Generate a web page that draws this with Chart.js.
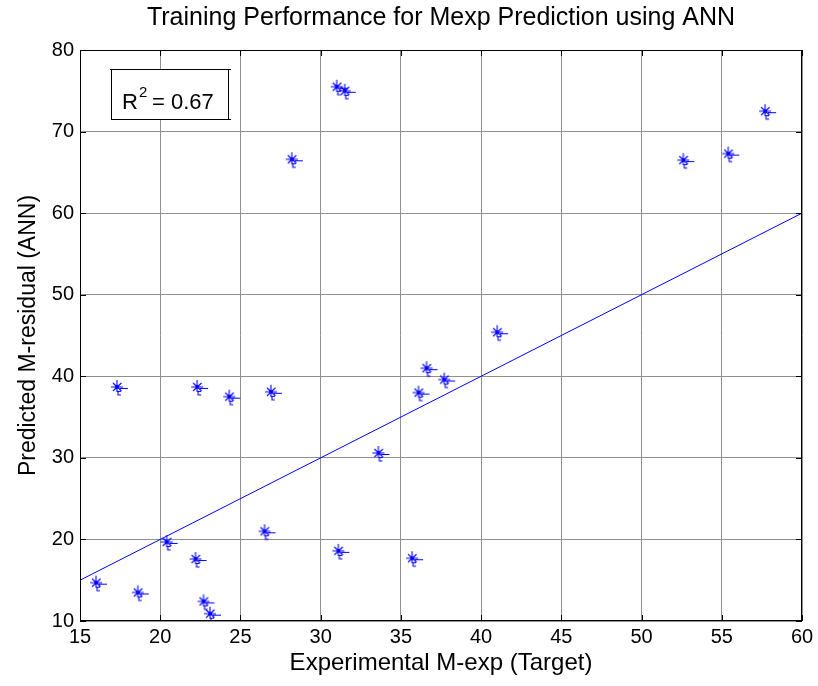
<!DOCTYPE html>
<html>
<head>
<meta charset="utf-8">
<title>Training Performance for Mexp Prediction using ANN</title>
<script src="https://cdn.jsdelivr.net/npm/chart.js@4.4.1/dist/chart.umd.min.js"></script>
<style>
  html, body { margin: 0; padding: 0; background: #fff; }
  #wrap { width: 818px; height: 686px; }
</style>
</head>
<body>
<div id="wrap"><canvas id="fitChart" width="818" height="686"></canvas></div>
<script>
// Target vs ANN output (training set)
const experimental = [31.0, 31.5, 28.2, 17.3, 22.3, 24.3, 26.9, 26.5, 31.1, 20.4,
                      22.2, 16.0, 18.6, 22.7, 23.1, 36.6, 37.7, 36.1, 33.6, 35.7,
                      57.7, 55.4, 52.6, 41.0];
const predicted    = [75.5, 75.0, 66.6, 38.7, 38.7, 37.5, 38.1, 21.0, 18.6, 19.7,
                      17.6, 14.7, 13.5, 12.4, 10.9, 41.0, 39.6, 38.0, 30.6, 17.7,
                      72.5, 67.3, 66.5, 45.4];
// reference line y = x
const fitX = [15, 60];
const fitY = [15, 60];
const xTicks = [15, 20, 25, 30, 35, 40, 45, 50, 55, 60];
const yTicks = [10, 20, 30, 40, 50, 60, 70, 80];
const r2 = 0.67;
const titleText = 'Training Performance for Mexp Prediction using ANN';

const FONT = "'Liberation Sans', Arial, sans-serif";

// MATLAB-style '*' marker, with the little ragged strokes it leaves behind
function starMarker() {
    const c = document.createElement('canvas');
    c.width = 32; c.height = 32;
    const g = c.getContext('2d');
    const cx = 16, cy = 16;
    g.strokeStyle = '#0000ff';
    g.lineWidth = 1.1;
    g.beginPath();
    g.moveTo(cx - 6, cy); g.lineTo(cx + 6, cy);
    g.moveTo(cx, cy - 7); g.lineTo(cx, cy + 5);
    g.moveTo(cx - 4, cy - 4); g.lineTo(cx + 4.5, cy + 4);
    g.moveTo(cx + 4.5, cy - 4); g.lineTo(cx - 4, cy + 4);
    // trailing dash and small bracket
    g.moveTo(cx + 3, cy + 1.5); g.lineTo(cx + 11, cy + 1.5);
    g.moveTo(cx + 4, cy + 4.5); g.lineTo(cx + 1, cy + 4.5); g.lineTo(cx + 1, cy + 8); g.lineTo(cx + 4, cy + 8);
    g.stroke();
    g.fillStyle = '#0000ff';
    g.fillRect(cx - 1.5, cy - 1.5, 3, 3);
    return c;
}

const points = experimental.map((x, i) => ({ x: x, y: predicted[i] }));
const fitLine = fitX.map((x, i) => ({ x: x, y: fitY[i] }));

// title, box, inward ticks and the R^2 annotation
const axesFrame = {
    id: 'axesFrame',
    afterDraw(chart) {
        const { ctx, chartArea: a, scales } = chart;
        ctx.save();
        ctx.fillStyle = '#000';
        ctx.font = '25px ' + FONT;
        ctx.textAlign = 'center';
        ctx.textBaseline = 'middle';
        ctx.fillText(titleText, (a.left + a.right) / 2, 18);

        ctx.strokeStyle = '#000';
        ctx.lineWidth = 1;
        ctx.strokeRect(a.left + 0.5, a.top + 0.5, a.right - a.left - 1, a.bottom - a.top - 1);
        ctx.beginPath();
        xTicks.forEach(v => {
            const px = Math.round(scales.x.getPixelForValue(v)) + 0.5;
            ctx.moveTo(px, a.bottom); ctx.lineTo(px, a.bottom - 6);
            ctx.moveTo(px, a.top); ctx.lineTo(px, a.top + 6);
        });
        yTicks.forEach(v => {
            const py = Math.round(scales.y.getPixelForValue(v)) + 0.5;
            ctx.moveTo(a.left, py); ctx.lineTo(a.left + 6, py);
            ctx.moveTo(a.right, py); ctx.lineTo(a.right - 6, py);
        });
        ctx.stroke();

        // R^2 label box
        const bx = 111, by = 69, bw = 117, bh = 50;
        ctx.fillStyle = '#fff';
        ctx.fillRect(bx, by, bw, bh);
        ctx.strokeRect(bx + 0.5, by + 0.5, bw, bh);
        ctx.beginPath();
        ctx.moveTo(bx - 1, by + 0.5); ctx.lineTo(bx + 4, by + 0.5);
        ctx.moveTo(bx + bw - 3, by + 0.5); ctx.lineTo(bx + bw + 3, by + 0.5);
        ctx.moveTo(bx + bw - 3, by + bh + 0.5); ctx.lineTo(bx + bw + 3, by + bh + 0.5);
        ctx.stroke();
        ctx.fillStyle = '#000';
        ctx.textAlign = 'left';
        ctx.textBaseline = 'alphabetic';
        ctx.font = '22px ' + FONT;
        ctx.fillText('R', 122, 109);
        const rw = ctx.measureText('R').width;
        ctx.font = '15px ' + FONT;
        ctx.fillText('2', 122 + rw + 1, 97);
        ctx.font = '22px ' + FONT;
        ctx.fillText(' = ' + r2.toFixed(2), 122 + rw + 8, 109);
        ctx.restore();
    }
};

new Chart(document.getElementById('fitChart'), {
    type: 'scatter',
    data: {
        datasets: [{
            label: 'ANN output',
            data: points,
            pointStyle: starMarker(),
            pointRadius: 7,
            pointHoverRadius: 7
        }, {
            type: 'line',
            label: 'Y = T',
            data: fitLine,
            borderColor: '#0000ff',
            borderWidth: 1,
            pointRadius: 0,
            fill: false
        }]
    },
    options: {
        responsive: false,
        animation: false,
        layout: { padding: { left: 0, right: 16, top: 50, bottom: 0 } },
        plugins: {
            legend: { display: false },
            tooltip: { enabled: false },
            title: { display: false }
        },
        scales: {
            x: {
                type: 'linear',
                min: 15, max: 60,
                afterBuildTicks: s => { s.ticks = xTicks.map(v => ({ value: v })); },
                afterFit: s => { s.height = 65; },
                grid: { color: '#8f8f8f', drawTicks: false },
                border: { display: false },
                ticks: { color: '#000', padding: 4, font: { family: FONT, size: 20 } },
                title: {
                    display: true,
                    text: 'Experimental M-exp (Target)',
                    color: '#000',
                    font: { family: FONT, size: 24 },
                    padding: { top: 0, bottom: 8 }
                }
            },
            y: {
                type: 'linear',
                min: 10, max: 80,
                afterBuildTicks: s => { s.ticks = yTicks.map(v => ({ value: v })); },
                afterFit: s => { s.width = 80; },
                grid: { color: '#8f8f8f', drawTicks: false },
                border: { display: false },
                ticks: { color: '#000', padding: 6, font: { family: FONT, size: 20 } },
                title: {
                    display: true,
                    text: 'Predicted M-residual (ANN)',
                    color: '#000',
                    font: { family: FONT, size: 23 },
                    padding: { top: 15, bottom: 0 }
                }
            }
        }
    },
    plugins: [axesFrame]
});
</script>
</body>
</html>
